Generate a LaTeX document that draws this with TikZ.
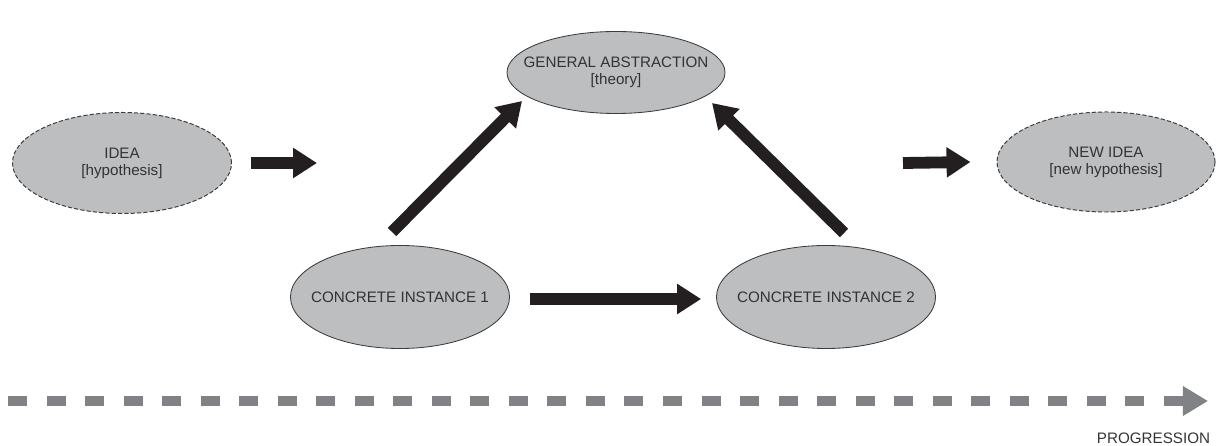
\documentclass[tikz,border=0pt]{standalone}
\usepackage{fontspec}
\setmainfont{Liberation Sans}
\usetikzlibrary{shapes.geometric, arrows.meta}
\definecolor{bubblefill}{HTML}{BCBEC0}
\definecolor{bubbleline}{HTML}{3C3C3C}
\definecolor{arrowblack}{HTML}{231F20}
\definecolor{progressgray}{HTML}{808285}
\definecolor{textgray}{HTML}{333333}
\begin{document}
\begin{tikzpicture}[x=0.025cm, y=0.025cm,
    font=\fontsize{10.8}{12.2}\selectfont,
    bubble/.style={ellipse, draw=bubbleline, line width=0.6pt, fill=bubblefill,
      text=textgray, align=center, inner sep=0pt, inner xsep=-12pt},
    guess/.style={bubble, line width=0.7pt, dash pattern=on 3pt off 1.5pt},
    bigarrow/.style={arrowblack, line width=8.4pt,
      -{Triangle[length=17pt, width=20.5pt]}},
    progress/.style={progressgray, line width=7.1pt,
      dash pattern=on 13.5pt off 13.9pt,
      -{Triangle[length=17.8pt, width=20pt]}}]
  \useasboundingbox (0,0) rectangle (1220,446);
  \node[guess, minimum width=5.475cm, minimum height=2.525cm] (idea) at (122,283) {IDEA\\{[hypothesis]}};
  \node[bubble, minimum width=5.45cm, minimum height=2.05cm] (ga) at (616,373.5) {GENERAL ABSTRACTION\\{[theory]}};
  \node[bubble, minimum width=5.475cm, minimum height=2.575cm] (ci1) at (400,149) {CONCRETE INSTANCE 1};
  \node[bubble, minimum width=5.475cm, minimum height=2.575cm] (ci2) at (826,149) {CONCRETE INSTANCE 2};
  \node[guess, minimum width=5.45cm, minimum height=2.5cm] (newidea) at (1106,284) {NEW IDEA\\{[new hypothesis]}};
  \coordinate (idea out) at (317,283);
  \coordinate (newidea in) at (903,283);
  \draw[bigarrow] ([xshift=19*0.025cm]idea.east) -- (idea out);
  \draw[bigarrow] (newidea in) -- ([xshift=-26*0.025cm]newidea.west);
  \draw[bigarrow] ([xshift=20*0.025cm, yshift=-2*0.025cm]ci1.east) -- ([xshift=-15*0.025cm, yshift=-2*0.025cm]ci2.west);
  \draw[bigarrow] ([shift={(-8,65)}]ci1.center) -- ([shift={(-94,-28.5)}]ga.center);
  \draw[bigarrow] ([shift={(18,64)}]ci2.center) -- ([shift={(96,-30.5)}]ga.center);
  \coordinate (start) at (8,45);
  \coordinate (end) at (1208,45);
  \draw[progress] (start) -- (end);
  \node[text=textgray, anchor=base east] (prog) at (1215,3) {PROGRESSION};
\end{tikzpicture}
\end{document}
